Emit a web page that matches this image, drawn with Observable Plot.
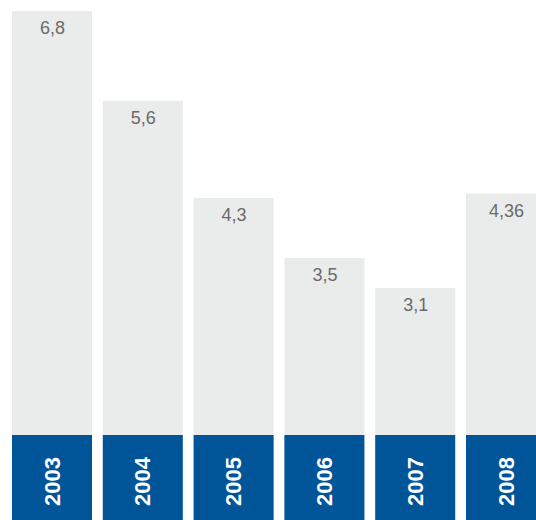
<!DOCTYPE html>
<html>
<head>
<meta charset="utf-8">
<script src="https://cdn.jsdelivr.net/npm/d3@7"></script>
<script src="https://cdn.jsdelivr.net/npm/@observablehq/plot@0.6"></script>
<style>
  html, body { margin: 0; padding: 0; background: #fff; overflow: hidden; }
  #chart svg { overflow: hidden; }
</style>
</head>
<body>
<div id="chart"></div>
<script>
const years = ["2003", "2004", "2005", "2006", "2007", "2008"];
const values = [6.8, 5.6, 4.3, 3.5, 3.1, 4.36];
const labels = ["6,8", "5,6", "4,3", "3,5", "3,1", "4,36"];

const data = years.map((year, i) => ({year, value: values[i], label: labels[i]}));
const maxValue = d3.max(values);

const chart = Plot.plot({
  width: 536,
  height: 520,
  marginTop: 11,
  marginBottom: 0,
  marginLeft: 0,
  marginRight: 0,
  style: {background: "#fff", fontFamily: "'Liberation Sans', Arial, sans-serif"},
  x: {type: "band", domain: years, range: [12, 546], paddingInner: 0.119, paddingOuter: 0, align: 0, round: false, axis: null},
  y: {domain: [0, maxValue], axis: null},
  marks: [
    Plot.barY(data, {x: "year", y: "value", fill: "#eaebeb"}),
    Plot.barY(data, {x: "year", y: () => maxValue, insetTop: 424, fill: "#005599"}),
    Plot.text(data, {x: "year", y: "value", text: "label", dy: 17, fill: "#6a6a6a", fontSize: 18}),
    Plot.text(data, {x: "year", y: () => 0, text: "year", rotate: -90, dy: -39, fill: "#fff", fontSize: 22, fontWeight: "bold"})
  ]
});
document.getElementById("chart").appendChild(chart);
</script>
</body>
</html>
